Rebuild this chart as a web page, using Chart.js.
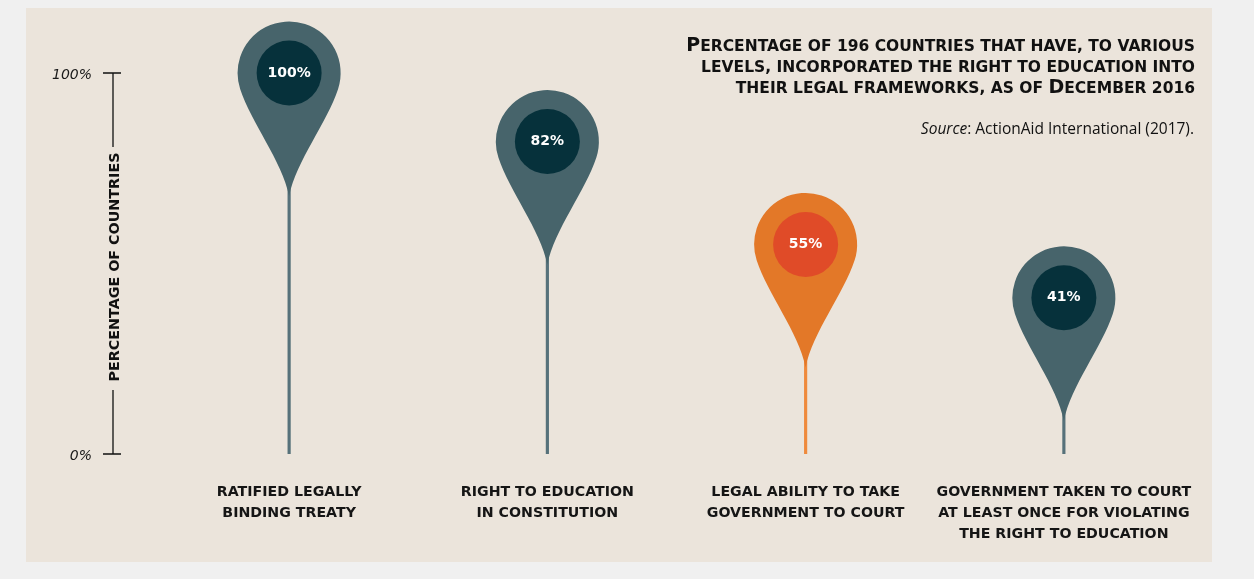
<!DOCTYPE html>
<html>
<head>
<meta charset="utf-8">
<script src="https://cdn.jsdelivr.net/npm/chart.js@4"></script>
<style>
  html, body { margin: 0; padding: 0; background: #f0f0f0; }
  canvas { display: block; }
</style>
</head>
<body>
<canvas id="pins" width="1254" height="579"></canvas>
<script>
// datos
const categorias = [
  ["RATIFIED LEGALLY", "BINDING TREATY"],
  ["RIGHT TO EDUCATION", "IN CONSTITUTION"],
  ["LEGAL ABILITY TO TAKE", "GOVERNMENT TO COURT"],
  ["GOVERNMENT TAKEN TO COURT", "AT LEAST ONCE FOR VIOLATING", "THE RIGHT TO EDUCATION"]
];
const porcentajes = [100, 82, 55, 41];
const destacado = [false, false, true, false];
const ticksY = [0, 100];

// titulo en versalitas: [texto, mayuscula grande?]
const titulo = [
  [["P", true], ["ERCENTAGE OF 196 COUNTRIES THAT HAVE, TO VARIOUS", false]],
  [["LEVELS, INCORPORATED THE RIGHT TO EDUCATION INTO", false]],
  [["THEIR LEGAL FRAMEWORKS, AS OF ", false], ["D", true], ["ECEMBER 2016", false]]
];

// colores
const pinOscuro = "#47646b", centroOscuro = "#06313b", talloOscuro = "#56717a";
const pinNaranja = "#e37828", centroNaranja = "#e04b28", talloNaranja = "#ef8a3c";

//Fondo y panel
const fondo = {
  id: "fondo",
  beforeDraw(chart) {
    const ctx = chart.ctx;
    ctx.save();
    ctx.fillStyle = "#f0f0f0";
    ctx.fillRect(0, 0, chart.width, chart.height);
    ctx.fillStyle = "#ebe4db";
    ctx.fillRect(26, 8, 1186, 554);
    ctx.restore();
  }
};

//Eje Y a mano (linea cortada con el titulo)
const ejeY = {
  id: "ejeY",
  afterDraw(chart) {
    const ctx = chart.ctx;
    const y = chart.scales.y;
    const x0 = 113;
    const yTop = y.getPixelForValue(100);
    const yBot = y.getPixelForValue(0);
    const mid = 267;
    ctx.save();
    ctx.strokeStyle = "#111";
    ctx.lineWidth = 1.3;
    ctx.beginPath();
    ctx.moveTo(x0, yTop); ctx.lineTo(x0, 147);
    ctx.moveTo(x0, 390); ctx.lineTo(x0, yBot);
    ticksY.forEach(v => {
      const py = y.getPixelForValue(v);
      ctx.moveTo(x0 - 10, py); ctx.lineTo(x0 + 8, py);
    });
    ctx.stroke();

    ctx.fillStyle = "#1a1a1a";
    ctx.font = "italic 14px 'DejaVu Sans'";
    ctx.textAlign = "right";
    ctx.textBaseline = "middle";
    ticksY.forEach(v => {
      ctx.fillText(v + "%", 92, y.getPixelForValue(v) + 2);
    });

    ctx.translate(x0 + 2, mid);
    ctx.rotate(-Math.PI / 2);
    ctx.textAlign = "center";
    ctx.fillStyle = "#111";
    ctx.font = "bold 14.3px 'DejaVu Sans'";
    ctx.fillText("PERCENTAGE OF COUNTRIES", 0, 0);
    ctx.restore();
  }
};

//Titulo y fuente
const textos = {
  id: "textos",
  afterDraw(chart) {
    const ctx = chart.ctx;
    const grande = "bold 19px 'DejaVu Sans'", chica = "bold 15.5px 'DejaVu Sans'";
    ctx.save();
    ctx.fillStyle = "#111";
    ctx.textAlign = "left";
    ctx.textBaseline = "alphabetic";
    titulo.forEach((linea, i) => {
      let total = 0;
      linea.forEach(([t, g]) => { ctx.font = g ? grande : chica; total += ctx.measureText(t).width; });
      let x = 1195 - total;
      linea.forEach(([t, g]) => {
        ctx.font = g ? grande : chica;
        ctx.fillText(t, x, 51 + i * 21);
        x += ctx.measureText(t).width;
      });
    });
    ctx.textAlign = "right";
    ctx.font = "15.5px 'Open Sans'";
    const resto = ": ActionAid International (2017).";
    const w = ctx.measureText(resto).width;
    ctx.fillText(resto, 1194, 134);
    ctx.font = "italic 15.5px 'Open Sans'";
    ctx.fillText("Source", 1194 - w, 134);
    ctx.restore();
  }
};

//Cabeza del pin
function dibujarPin(ctx, cx, cy, color) {
  const R = 51.5;
  const phi = 72 * Math.PI / 180;
  const tipY = cy + 123;
  const dx = R * Math.sin(phi), dy = R * Math.cos(phi);
  // control tangente al circulo para que no quede escalon
  const k = 35;
  const tx = k * Math.cos(phi), ty = k * Math.sin(phi);
  ctx.beginPath();
  ctx.arc(cx, cy, R, Math.PI / 2 - phi, Math.PI / 2 + phi, true);
  ctx.bezierCurveTo(cx - dx + tx, cy + dy + ty, cx - 7, cy + 88, cx, tipY);
  ctx.bezierCurveTo(cx + 7, cy + 88, cx + dx - tx, cy + dy + ty, cx + dx, cy + dy);
  ctx.closePath();
  ctx.fillStyle = color;
  ctx.fill();
}

const pines = {
  id: "pines",
  afterDatasetsDraw(chart) {
    const ctx = chart.ctx;
    const meta = chart.getDatasetMeta(0);
    ctx.save();
    meta.data.forEach((bar, i) => {
      const cx = bar.x, cy = bar.y;
      dibujarPin(ctx, cx, cy, destacado[i] ? pinNaranja : pinOscuro);
      ctx.beginPath();
      ctx.arc(cx, cy, 32.5, 0, Math.PI * 2);
      ctx.fillStyle = destacado[i] ? centroNaranja : centroOscuro;
      ctx.fill();
      ctx.fillStyle = "#fff";
      ctx.font = "bold 14px 'DejaVu Sans'";
      ctx.textAlign = "center";
      ctx.textBaseline = "middle";
      ctx.fillText(porcentajes[i] + "%", cx, cy);
    });
    ctx.restore();
  }
};

const canvas_pins = document.getElementById("pins");

new Chart(canvas_pins, {
  type: "bar",
  data: {
    labels: categorias,
    datasets: [
      {
        data: porcentajes,
        backgroundColor: destacado.map(d => d ? talloNaranja : talloOscuro),
        barThickness: 2.5,
      },
    ],
  },
  options: {
    responsive: false,
    devicePixelRatio: 1,
    animation: false,
    layout: { padding: { left: 160, right: 61, top: 73, bottom: 0 } },
    plugins: { legend: { display: false }, tooltip: { enabled: false } },
    scales: {
      y: { display: false, min: 0, max: 100 },
      x: {
        offset: true,
        grid: { display: false, drawTicks: false },
        border: { display: false },
        ticks: {
          color: "#151515",
          font: { family: "DejaVu Sans", weight: "bold", size: 14.2, lineHeight: 1.47 },
          padding: 28,
          maxRotation: 0,
          autoSkip: false,
        },
        afterFit: s => { s.height = 579 - 454; },
      },
    },
  },
  plugins: [fondo, pines, ejeY, textos],
});
</script>
</body>
</html>
